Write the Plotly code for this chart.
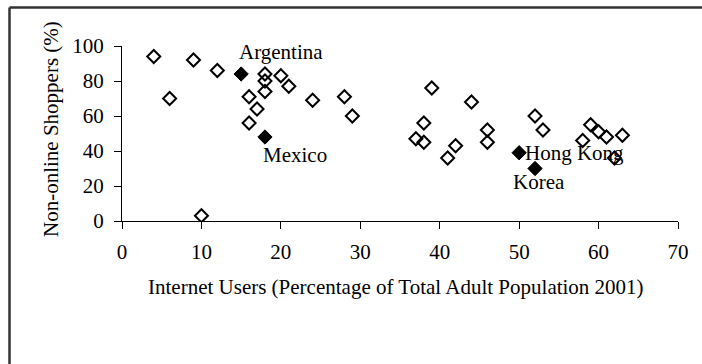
import plotly.graph_objects as go

# Internet users (% of adult population, 2001) vs. non-online shoppers (%)
other_users = [4, 6, 9, 10, 12, 16, 16, 17, 18, 18, 18, 20, 21, 24, 28, 29,
               37, 38, 38, 39, 41, 42, 44, 46, 46, 52, 53, 58, 59, 60, 61, 62, 63]
other_nonshop = [94, 70, 92, 3, 86, 71, 56, 64, 84, 80, 74, 83, 77, 69, 71, 60,
                 47, 56, 45, 76, 36, 43, 68, 52, 45, 60, 52, 46, 55, 51, 48, 36, 49]

labelled_names = ["Argentina", "Mexico", "Hong Kong", "Korea"]
labelled_users = [15, 18, 50, 52]
labelled_nonshop = [84, 48, 39, 30]

x_ticks = [0, 10, 20, 30, 40, 50, 60, 70]
y_ticks = [0, 20, 40, 60, 80, 100]

FONT = "Liberation Serif, Times New Roman, serif"
FS = 21
W, H = 702, 364
ML, MR, MT, MB = 122, 24, 46, 143
PW, PH = W - ML - MR, H - MT - MB


def px_to_paper_x(px):
    return (px - ML) / PW


def px_to_paper_y(py):
    return (H - MB - py) / PH


fig = go.Figure()

fig.add_trace(go.Scatter(
    x=other_users, y=other_nonshop, mode="markers",
    marker=dict(symbol="diamond-open", size=10, color="black",
                line=dict(width=2, color="black")),
    hoverinfo="x+y", showlegend=False,
))
fig.add_trace(go.Scatter(
    x=labelled_users, y=labelled_nonshop, mode="markers",
    text=labelled_names,
    marker=dict(symbol="diamond", size=11, color="black",
                line=dict(width=1, color="black")),
    showlegend=False,
))

# country labels, offset from their markers
label_offsets = {
    "Argentina": (5.0, 12.6, "center"),
    "Mexico": (3.8, -10.3, "center"),
    "Hong Kong": (0.5, -0.2, "left"),
    "Korea": (0.5, -7.9, "center"),
}
annotations = []
for name, ux, ny in zip(labelled_names, labelled_users, labelled_nonshop):
    dx, dy, anchor = label_offsets[name]
    annotations.append(dict(
        x=ux + dx, y=ny + dy, xref="x", yref="y", text=name,
        showarrow=False, xanchor=anchor, yanchor="middle",
        font=dict(family=FONT, size=FS, color="black"),
    ))

# axis titles
annotations.append(dict(
    x=px_to_paper_x(396), y=px_to_paper_y(287), xref="paper", yref="paper",
    text="Internet Users (Percentage of Total Adult Population 2001)",
    showarrow=False, xanchor="center", yanchor="middle",
    font=dict(family=FONT, size=FS, color="black"),
))
annotations.append(dict(
    x=px_to_paper_x(51), y=px_to_paper_y(129), xref="paper", yref="paper",
    text="Non-online Shoppers (%)", textangle=-90,
    showarrow=False, xanchor="center", yanchor="middle",
    font=dict(family=FONT, size=FS, color="black"),
))

# frame lines along the top and left edges
frame = dict(color="#333333", width=2.5)
shapes = [
    dict(type="line", xref="paper", yref="paper",
         x0=px_to_paper_x(9.5), x1=px_to_paper_x(W + 2),
         y0=px_to_paper_y(7.5), y1=px_to_paper_y(7.5), line=frame),
    dict(type="line", xref="paper", yref="paper",
         x0=px_to_paper_x(9.5), x1=px_to_paper_x(9.5),
         y0=px_to_paper_y(7.5), y1=px_to_paper_y(H + 2), line=frame),
]

fig.update_layout(
    width=W, height=H,
    margin=dict(l=ML, r=MR, t=MT, b=MB, pad=0),
    paper_bgcolor="white", plot_bgcolor="white",
    font=dict(family=FONT, size=FS, color="black"),
    annotations=annotations, shapes=shapes,
    xaxis=dict(
        range=[0, 70], tickvals=x_ticks, showgrid=False, zeroline=False,
        showline=True, linecolor="black", linewidth=1,
        ticks="outside", ticklen=7, tickcolor="black", tickwidth=1,
        ticklabelstandoff=5,
        tickfont=dict(family=FONT, size=FS, color="black"),
    ),
    yaxis=dict(
        range=[0, 100], tickvals=y_ticks, showgrid=False, zeroline=False,
        showline=True, linecolor="black", linewidth=1,
        ticks="outside", ticklen=7, tickcolor="black", tickwidth=1,
        ticklabelstandoff=6,
        tickfont=dict(family=FONT, size=FS, color="black"),
    ),
)

fig.write_html("out.html")
